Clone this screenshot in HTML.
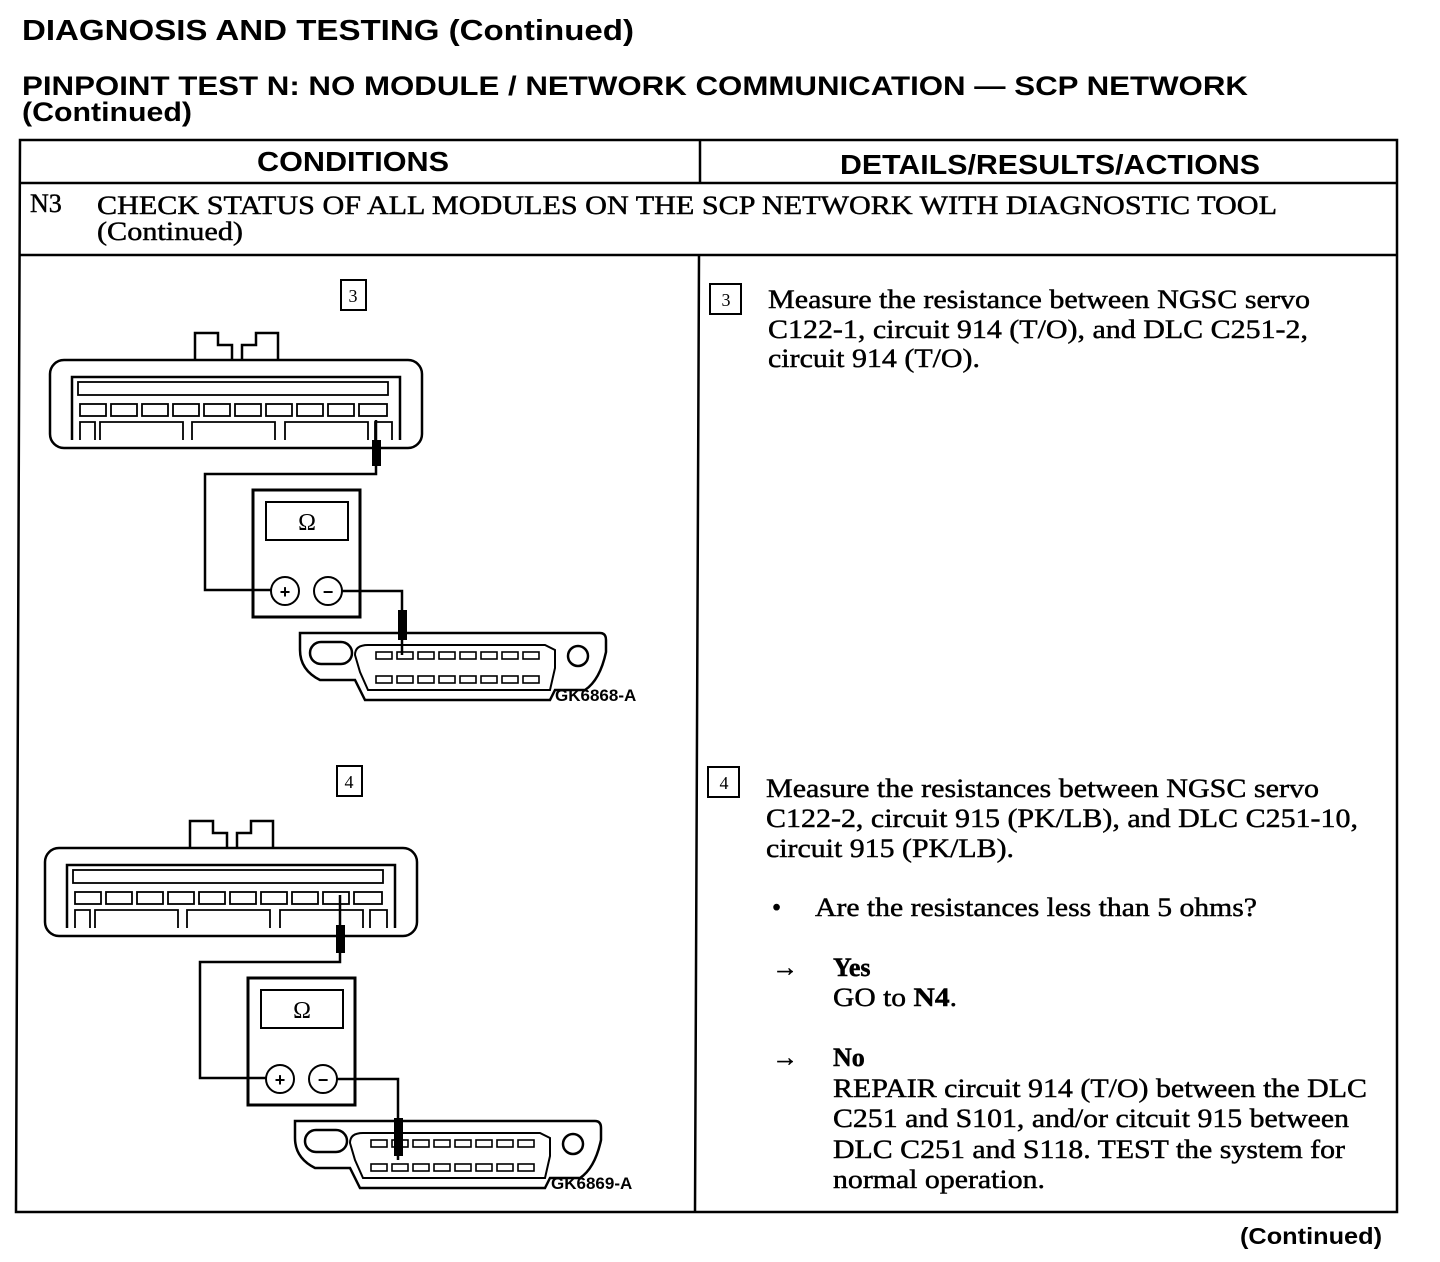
<!DOCTYPE html>
<html><head><meta charset="utf-8"><style>
html,body{margin:0;padding:0;background:#fff;}
svg{display:block}
.sans{font-family:"Liberation Sans",sans-serif;font-weight:bold;fill:#000}
.ser{font-family:"Liberation Serif",serif;fill:#000;stroke:#000;stroke-width:0.45}
</style></head><body>
<svg width="1440" height="1262" viewBox="0 0 1440 1262" xmlns="http://www.w3.org/2000/svg">
<defs>
<g id="conn" fill="none" stroke="#000" stroke-width="2.5">
  <path d="M195 360 V333 H218 V345 H232 V360 M242 360 V345 H256 V333 H278 V360"/>
  <rect x="50" y="360" width="372" height="88" rx="14"/>
  <path d="M72 440 V377 H400 V440"/>
  <rect x="78" y="382" width="310" height="13" stroke-width="1.8"/>
  <g stroke-width="1.8">
   <rect x="80" y="404" width="26" height="12"/><rect x="111" y="404" width="26" height="12"/><rect x="142" y="404" width="26" height="12"/><rect x="173" y="404" width="26" height="12"/><rect x="204" y="404" width="26" height="12"/><rect x="235" y="404" width="26" height="12"/><rect x="266" y="404" width="26" height="12"/><rect x="297" y="404" width="26" height="12"/><rect x="328" y="404" width="26" height="12"/><rect x="359" y="404" width="28" height="12"/>
   <path d="M80 440 V422 H95 V440 M100 440 V422 H183 V440 M192 440 V422 H275 V440 M285 440 V422 H368 V440 M375 440 V422 H392 V440"/>
  </g>
  <rect x="253" y="490" width="107" height="127" stroke-width="3"/>
  <rect x="266" y="502" width="82" height="38" stroke-width="2"/>
  <circle cx="285" cy="591" r="14" stroke-width="2"/>
  <circle cx="328" cy="591" r="14" stroke-width="2"/>
  <path d="M300 633 H600 Q606 633 606 640 V652 Q600 680 585 690 H555 L550 700 H365 L355 680 H320 Q300 670 300 650 Z"/>
  <rect x="310" y="642" width="42" height="22" rx="11"/>
  <path d="M355 655 Q355 645 368 645 H545 L555 650 V668 L550 690 H368 L360 672 Z" stroke-width="2"/>
  <circle cx="578" cy="656" r="10"/>
  <g stroke-width="1.6">
   <rect x="376" y="652" width="16" height="7"/><rect x="397" y="652" width="16" height="7"/><rect x="418" y="652" width="16" height="7"/><rect x="439" y="652" width="16" height="7"/><rect x="460" y="652" width="16" height="7"/><rect x="481" y="652" width="16" height="7"/><rect x="502" y="652" width="16" height="7"/><rect x="523" y="652" width="16" height="7"/>
   <rect x="376" y="676" width="16" height="7"/><rect x="397" y="676" width="16" height="7"/><rect x="418" y="676" width="16" height="7"/><rect x="439" y="676" width="16" height="7"/><rect x="460" y="676" width="16" height="7"/><rect x="481" y="676" width="16" height="7"/><rect x="502" y="676" width="16" height="7"/><rect x="523" y="676" width="16" height="7"/>
  </g>
</g>
<g id="meterText">
  <text x="307" y="530" font-family="Liberation Serif,serif" font-size="24" text-anchor="middle">Ω</text>
  <text x="285" y="598" font-family="Liberation Sans,sans-serif" font-weight="bold" font-size="18" text-anchor="middle">+</text>
  <text x="328" y="598" font-family="Liberation Sans,sans-serif" font-weight="bold" font-size="18" text-anchor="middle">−</text>
</g>
</defs>

<text class="sans" x="22" y="40" font-size="29" textLength="612" lengthAdjust="spacingAndGlyphs">DIAGNOSIS AND TESTING (Continued)</text>
<text class="sans" x="22" y="95" font-size="27" textLength="1226" lengthAdjust="spacingAndGlyphs">PINPOINT TEST N:  NO MODULE / NETWORK COMMUNICATION — SCP NETWORK</text>
<text class="sans" x="22" y="121" font-size="27" textLength="170" lengthAdjust="spacingAndGlyphs">(Continued)</text>

<g fill="none" stroke="#000" stroke-width="2.5">
 <path d="M20 140 H1397 V1212 H16 Z"/>
 <path d="M20 183 H1397 M20 255 H1397"/>
 <path d="M700 140 V183 M699 255 L695 1212"/>
</g>
<text class="sans" x="353" y="171" font-size="28" text-anchor="middle" textLength="192" lengthAdjust="spacingAndGlyphs">CONDITIONS</text>
<text class="sans" x="1050" y="174" font-size="28" text-anchor="middle" textLength="420" lengthAdjust="spacingAndGlyphs">DETAILS/RESULTS/ACTIONS</text>
<text class="ser" x="30" y="212" font-size="26">N3</text>
<text class="ser" x="97" y="214" font-size="26" textLength="1180" lengthAdjust="spacingAndGlyphs">CHECK STATUS OF ALL MODULES ON THE SCP NETWORK WITH DIAGNOSTIC TOOL</text>
<text class="ser" x="97" y="240" font-size="26" textLength="146" lengthAdjust="spacingAndGlyphs">(Continued)</text>

<!-- Diagram 3 -->
<rect x="341" y="280" width="25" height="30" fill="none" stroke="#000" stroke-width="2"/>
<text x="353" y="302" font-family="Liberation Serif,serif" font-size="18" text-anchor="middle">3</text>
<use href="#conn"/>
<use href="#meterText"/>
<g fill="none" stroke="#000" stroke-width="2.5">
 <path d="M376 420 V474 H205 V590 H271"/>
 <path d="M342 591 H402 V655"/>
</g>
<rect x="372" y="440" width="9" height="26" fill="#000"/>
<rect x="398" y="610" width="9" height="30" fill="#000"/>
<text class="sans" x="555" y="701" font-size="17">GK6868-A</text>

<!-- Diagram 4 -->
<rect x="337" y="766" width="25" height="30" fill="none" stroke="#000" stroke-width="2"/>
<text x="349" y="788" font-family="Liberation Serif,serif" font-size="18" text-anchor="middle">4</text>
<g transform="translate(-5,488)"><use href="#conn"/><use href="#meterText"/></g>
<g fill="none" stroke="#000" stroke-width="2.5">
 <path d="M340 895 V962 H200 V1078 H266"/>
 <path d="M337 1079 H398 V1160"/>
</g>
<rect x="336" y="925" width="9" height="28" fill="#000"/>
<rect x="394" y="1118" width="9" height="38" fill="#000"/>
<text class="sans" x="551" y="1189" font-size="17">GK6869-A</text>

<!-- Right column -->
<rect x="710" y="284" width="31" height="30" fill="none" stroke="#000" stroke-width="2"/>
<text x="726" y="306" font-family="Liberation Serif,serif" font-size="18" text-anchor="middle">3</text>
<g class="ser" font-size="26">
<text x="768" y="308" textLength="542" lengthAdjust="spacingAndGlyphs">Measure the resistance between NGSC servo</text>
<text x="768" y="338" textLength="540" lengthAdjust="spacingAndGlyphs">C122-1, circuit 914 (T/O), and DLC C251-2,</text>
<text x="768" y="367" textLength="212" lengthAdjust="spacingAndGlyphs">circuit 914 (T/O).</text>
<text x="766" y="797" textLength="553" lengthAdjust="spacingAndGlyphs">Measure the resistances between NGSC servo</text>
<text x="766" y="827" textLength="592" lengthAdjust="spacingAndGlyphs">C122-2, circuit 915 (PK/LB), and DLC C251-10,</text>
<text x="766" y="857" textLength="248" lengthAdjust="spacingAndGlyphs">circuit 915 (PK/LB).</text>
<text x="772" y="916">•</text>
<text x="815" y="916" textLength="442" lengthAdjust="spacingAndGlyphs">Are the resistances less than 5 ohms?</text>
<text x="772" y="976">→</text>
<text x="833" y="976" font-weight="bold">Yes</text>
<text x="833" y="1006" textLength="124" lengthAdjust="spacingAndGlyphs">GO to <tspan font-weight="bold">N4</tspan>.</text>
<text x="772" y="1066">→</text>
<text x="833" y="1066" font-weight="bold">No</text>
<text x="833" y="1097" textLength="534" lengthAdjust="spacingAndGlyphs">REPAIR circuit 914 (T/O) between the DLC</text>
<text x="833" y="1127" textLength="516" lengthAdjust="spacingAndGlyphs">C251 and S101, and/or citcuit 915 between</text>
<text x="833" y="1158" textLength="512" lengthAdjust="spacingAndGlyphs">DLC C251 and S118. TEST the system for</text>
<text x="833" y="1188" textLength="212" lengthAdjust="spacingAndGlyphs">normal operation.</text>
</g>
<rect x="708" y="767" width="31" height="30" fill="none" stroke="#000" stroke-width="2"/>
<text x="724" y="789" font-family="Liberation Serif,serif" font-size="18" text-anchor="middle">4</text>

<text class="sans" x="1382" y="1244" font-size="23" text-anchor="end" textLength="142" lengthAdjust="spacingAndGlyphs">(Continued)</text>
</svg>
</body></html>
